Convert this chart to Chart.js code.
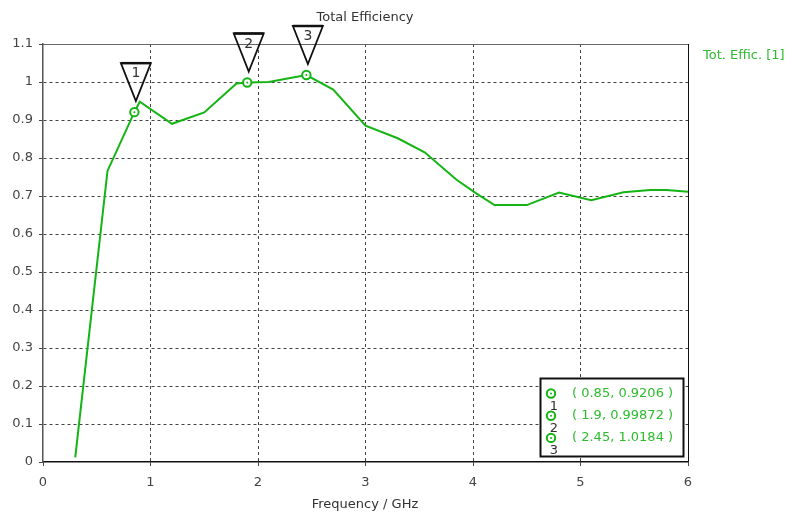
<!DOCTYPE html>
<html>
<head>
<meta charset="utf-8">
<script src="https://cdn.jsdelivr.net/npm/chart.js@4.4.1/dist/chart.umd.min.js"></script>
<style>
  html, body { margin: 0; padding: 0; background: #fff; }
  #wrap { width: 796px; height: 515px; }
</style>
</head>
<body>
<div id="wrap"><canvas id="c" width="796" height="515"></canvas></div>
<script>
// Total efficiency of the antenna over frequency
const freqGHz  = [0.3, 0.6, 0.85, 0.9, 1.2, 1.5, 1.8, 1.9, 2.1, 2.45, 2.7, 3.0, 3.3, 3.55, 3.85, 4.03, 4.2, 4.5, 4.8, 5.1, 5.4, 5.65, 5.8, 6.0];
const totEffic = [0.012, 0.766, 0.9206, 0.948, 0.89, 0.92, 0.996, 0.99872, 1.0, 1.0184, 0.98, 0.885, 0.852, 0.815, 0.742, 0.707, 0.676, 0.676, 0.709, 0.689, 0.710, 0.716, 0.716, 0.711];

// Numbered markers placed on the curve
const markerIds   = ['1', '2', '3'];
const markerFreq  = [0.85, 1.9, 2.45];
const markerEffic = [0.9206, 0.99872, 1.0184];

// Axis ticks and texts
const xTickValues = [0, 1, 2, 3, 4, 5, 6];
const yTickLabels = ['0', '0.1', '0.2', '0.3', '0.4', '0.5', '0.6', '0.7', '0.8', '0.9', '1', '1.1'];
const chartTitle  = 'Total Efficiency';
const xAxisTitle  = 'Frequency / GHz';
const seriesName  = 'Tot. Effic. [1]';

const FONT = '"DejaVu Sans", Verdana, sans-serif';
const GREEN = '#14b414';
const GREEN_TEXT = '#2cbc2c';
const GRID = '#444';
const NONE = 'rgba(0,0,0,0)';

function drawMarkerDot(ctx, x, y) {
  ctx.save();
  ctx.beginPath();
  ctx.arc(x, y, 4.2, 0, Math.PI * 2);
  ctx.fillStyle = '#fff';
  ctx.fill();
  ctx.lineWidth = 2;
  ctx.strokeStyle = GREEN;
  ctx.stroke();
  ctx.beginPath();
  ctx.arc(x, y, 1, 0, Math.PI * 2);
  ctx.fillStyle = GREEN;
  ctx.fill();
  ctx.restore();
}

const decorations = {
  id: 'decorations',
  beforeDraw(chart) {
    const ctx = chart.ctx;
    ctx.save();
    ctx.fillStyle = '#fff';
    ctx.fillRect(0, 0, chart.width, chart.height);
    ctx.restore();
  },
  afterDraw(chart) {
    const ctx = chart.ctx;
    const a = chart.chartArea;
    const xs = chart.scales.x, ys = chart.scales.y;
    ctx.save();

    // frame: grey top edge, dark right edge
    ctx.lineWidth = 1;
    ctx.strokeStyle = '#666';
    ctx.beginPath();
    ctx.moveTo(a.left, a.top + 0.5);
    ctx.lineTo(a.right + 1, a.top + 0.5);
    ctx.stroke();
    ctx.strokeStyle = '#111';
    ctx.beginPath();
    ctx.moveTo(a.right + 0.5, a.top);
    ctx.lineTo(a.right + 0.5, a.bottom);
    ctx.stroke();

    // titles
    ctx.font = '13px ' + FONT;
    ctx.fillStyle = '#333';
    ctx.textAlign = 'center';
    ctx.textBaseline = 'middle';
    ctx.fillText(chartTitle, 365, 18);
    ctx.fillText(xAxisTitle, 365, 505);

    // series name on the right
    ctx.fillStyle = GREEN_TEXT;
    ctx.textAlign = 'left';
    ctx.fillText(seriesName, 703, 56);

    // numbered markers: dot on the curve + triangle flag above
    for (let i = 0; i < markerIds.length; i++) {
      const px = xs.getPixelForValue(markerFreq[i]);
      const py = ys.getPixelForValue(markerEffic[i]);
      drawMarkerDot(ctx, px, py);
      const tipX = px + 1.5, tipY = py - 11;
      const topY = tipY - 38;
      ctx.strokeStyle = '#111';
      ctx.lineWidth = 1.8;
      ctx.lineJoin = 'miter';
      ctx.beginPath();
      ctx.moveTo(tipX - 15, topY);
      ctx.lineTo(tipX + 15, topY);
      ctx.lineTo(tipX, tipY);
      ctx.closePath();
      ctx.stroke();
      ctx.lineWidth = 2.5;
      ctx.beginPath();
      ctx.moveTo(tipX - 15, topY);
      ctx.lineTo(tipX + 15, topY);
      ctx.stroke();
      ctx.font = '14px ' + FONT;
      ctx.fillStyle = '#333';
      ctx.textAlign = 'center';
      ctx.fillText(markerIds[i], tipX, topY + 10.5);
    }

    // marker value box
    const bx = 540.5, by = 378.5, bw = 143, bh = 78;
    ctx.fillStyle = '#fff';
    ctx.fillRect(bx, by, bw, bh);
    ctx.strokeStyle = '#111';
    ctx.lineWidth = 2;
    ctx.strokeRect(bx, by, bw, bh);
    for (let i = 0; i < markerIds.length; i++) {
      const ry = 393.5 + i * 22.2;
      drawMarkerDot(ctx, 551, ry);
      ctx.font = '13px ' + FONT;
      ctx.fillStyle = '#333';
      ctx.textAlign = 'center';
      ctx.fillText(markerIds[i], 554, ry + 13);
      ctx.fillStyle = GREEN_TEXT;
      ctx.textAlign = 'left';
      ctx.fillText('( ' + markerFreq[i] + ', ' + markerEffic[i] + ' )', 572, ry);
    }
    ctx.restore();
  }
};

new Chart(document.getElementById('c'), {
  type: 'line',
  data: {
    datasets: [{
      label: seriesName,
      data: freqGHz.map((f, i) => ({ x: f, y: totEffic[i] })),
      borderColor: GREEN,
      borderWidth: 2,
      pointRadius: 0,
      tension: 0,
      fill: false
    }]
  },
  options: {
    responsive: false,
    animation: false,
    devicePixelRatio: 1,
    layout: { padding: { top: 44, right: 108, left: 0, bottom: 0 } },
    plugins: { legend: { display: false }, title: { display: false }, tooltip: { enabled: false } },
    scales: {
      x: {
        type: 'linear',
        min: 0, max: 6,
        afterFit(s) { s.height = 53; },
        afterBuildTicks(s) { s.ticks = xTickValues.map(v => ({ value: v })); },
        ticks: {
          font: { family: FONT, size: 13 },
          color: '#444',
          padding: 9,
          maxRotation: 0,
          callback: v => String(v)
        },
        grid: {
          color: ctx => (ctx.tick && (ctx.tick.value === 6 || ctx.tick.value === 0) ? NONE : GRID),
          tickColor: '#444',
          lineWidth: 1,
          tickLength: 4,
          tickBorderDash: []
        },
        border: { display: true, color: '#111', width: 1.5, dash: [3, 3] }
      },
      y: {
        type: 'linear',
        min: 0, max: 1.1,
        afterFit(s) { s.width = 43; },
        afterBuildTicks(s) { s.ticks = yTickLabels.map((t, i) => ({ value: i / 10 })); },
        ticks: {
          font: { family: FONT, size: 13 },
          color: '#444',
          padding: 6,
          callback: (v, i) => yTickLabels[i]
        },
        grid: {
          color: ctx => (ctx.tick && (ctx.index === yTickLabels.length - 1 || ctx.index === 0) ? NONE : GRID),
          tickColor: '#444',
          lineWidth: 1,
          tickLength: 4,
          tickBorderDash: []
        },
        border: { display: true, color: '#555', width: 1.5, dash: [3, 3] }
      }
    }
  },
  plugins: [decorations]
});
</script>
</body>
</html>
